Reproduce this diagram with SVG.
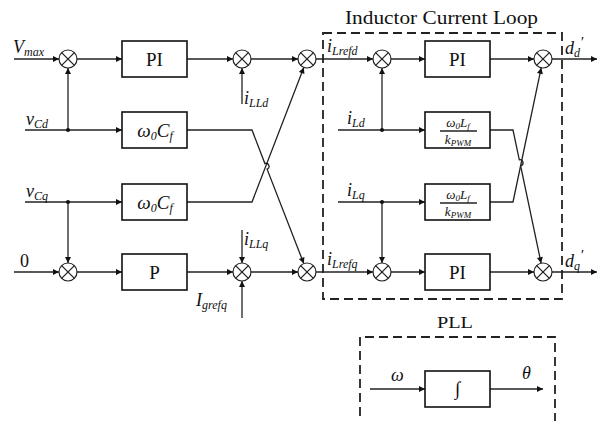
<svg xmlns="http://www.w3.org/2000/svg" width="601" height="421" viewBox="0 0 601 421">
<style>
.ln{fill:none;stroke:#222;stroke-width:1.3}
.bx{fill:#fff;stroke:#111;stroke-width:1.6}
.sm{fill:#fff;stroke:#222;stroke-width:1.2}
.dash{fill:none;stroke:#222;stroke-width:1.8;stroke-dasharray:9 5}
text{font-family:"Liberation Serif","Times New Roman",serif;fill:#111}
.it{font-style:italic}
.bt{font-size:19px;text-anchor:middle}
.lb{font-size:18px;font-style:italic}
.sub{font-size:12px;font-style:italic}
.ti{font-size:19px}
</style>
<defs>
<marker id="a" viewBox="0 0 10 10" refX="10" refY="5" markerWidth="8" markerHeight="6" orient="auto" markerUnits="userSpaceOnUse"><path d="M0,0 L10,5 L0,10 z" fill="#111"/></marker>
<symbol id="sum" overflow="visible"><circle cx="0" cy="0" r="9" class="sm"/><path d="M-6.4,-6.4 L6.4,6.4 M-6.4,6.4 L6.4,-6.4" class="ln" stroke-width="0.9"/></symbol>
</defs>

<g id="connectors" class="ln" marker-end="url(#a)">
<path d="M14,59 H59"/>
<path d="M77,59 H122"/>
<path d="M187,59 H233"/>
<path d="M251,59 H298"/>
<path d="M316,59 H373"/>
<path d="M391,59 H425"/>
<path d="M490,59 H534"/>
<path d="M552,59 H597"/>
<path d="M68,130 V68"/>
<path d="M25,130 H122"/>
<path d="M187,130 H252 L264.9,163.6 A3,3 0 0 1 267.1,169.2 L303.8,263.6"/>
<path d="M242,104 V68"/>
<path d="M25,202 H122"/>
<path d="M68,202 V263"/>
<path d="M187,202 H252 L303.8,67.4"/>
<path d="M14,272 H59"/>
<path d="M77,272 H122"/>
<path d="M187,272 H233"/>
<path d="M251,272 H298"/>
<path d="M316,272 H373"/>
<path d="M391,272 H425"/>
<path d="M490,272 H534"/>
<path d="M552,272 H597"/>
<path d="M242,230 V263"/>
<path d="M242,318 V281"/>
<path d="M338,130 H425"/>
<path d="M382,130 V68"/>
<path d="M338,202 H425"/>
<path d="M382,202 V263"/>
<path d="M490,130 H513 L519.3,159.8 A3,3 0 0 1 520.6,165.7 L541.1,263.2"/>
<path d="M490,202 H513 L541.2,67.8"/>
<path d="M370,389 H425"/>
<path d="M490,389 H543"/>
</g>
<g id="dots" fill="#111">
<circle cx="68" cy="130" r="2"/>
<circle cx="68" cy="202" r="2"/>
<circle cx="382" cy="130" r="2"/>
<circle cx="382" cy="202" r="2"/>
</g>

<g id="loop-frame">
<rect x="323" y="33" width="239" height="266" class="dash"/>
<text x="345" y="24" class="ti" textLength="193" lengthAdjust="spacingAndGlyphs">Inductor Current Loop</text>
</g>
<g id="pll-frame">
<path d="M360,430 V337 H555 V430" class="dash"/>
<text x="437" y="328" font-size="17" textLength="36" lengthAdjust="spacingAndGlyphs">PLL</text>
</g>

<g id="s1"><use href="#sum" x="68" y="59"/></g>
<g id="s2"><use href="#sum" x="242" y="59"/></g>
<g id="s3"><use href="#sum" x="307" y="59"/></g>
<g id="s4"><use href="#sum" x="382" y="59"/></g>
<g id="s5"><use href="#sum" x="543" y="59"/></g>
<g id="s6"><use href="#sum" x="68" y="272"/></g>
<g id="s7"><use href="#sum" x="242" y="272"/></g>
<g id="s8"><use href="#sum" x="307" y="272"/></g>
<g id="s9"><use href="#sum" x="382" y="272"/></g>
<g id="s10"><use href="#sum" x="543" y="272"/></g>

<g id="pi1"><rect x="122" y="41" width="65" height="36" class="bx"/><text x="154.5" y="66" class="bt">PI</text></g>
<g id="wc1"><rect x="122" y="112" width="65" height="36" class="bx"/><text x="155" y="137" class="bt it">ω<tspan font-size="12" dy="3">0</tspan><tspan dy="-3">C</tspan><tspan font-size="12" dy="3">f</tspan></text></g>
<g id="wc2"><rect x="122" y="184" width="65" height="36" class="bx"/><text x="155" y="209" class="bt it">ω<tspan font-size="12" dy="3">0</tspan><tspan dy="-3">C</tspan><tspan font-size="12" dy="3">f</tspan></text></g>
<g id="p"><rect x="122" y="254" width="65" height="36" class="bx"/><text x="154.5" y="279" class="bt">P</text></g>
<g id="pi2"><rect x="425" y="41" width="65" height="36" class="bx"/><text x="457.5" y="66" class="bt">PI</text></g>
<g id="fr1"><rect x="425" y="112" width="65" height="36" class="bx"/><text x="458" y="127" font-size="13" class="it" text-anchor="middle">ω<tspan font-size="9" dy="2">0</tspan><tspan dy="-2">L</tspan><tspan font-size="9" dy="2">f</tspan></text><path d="M440,131 H477" class="ln" stroke-width="1"/><text x="458" y="144" font-size="13" class="it" text-anchor="middle">k<tspan font-size="9" dy="2">PWM</tspan></text></g>
<g id="fr2"><rect x="425" y="184" width="65" height="36" class="bx"/><text x="458" y="199" font-size="13" class="it" text-anchor="middle">ω<tspan font-size="9" dy="2">0</tspan><tspan dy="-2">L</tspan><tspan font-size="9" dy="2">f</tspan></text><path d="M440,203 H477" class="ln" stroke-width="1"/><text x="458" y="216" font-size="13" class="it" text-anchor="middle">k<tspan font-size="9" dy="2">PWM</tspan></text></g>
<g id="pi3"><rect x="425" y="254" width="65" height="36" class="bx"/><text x="457.5" y="279" class="bt">PI</text></g>
<g id="int"><rect x="425" y="371" width="65" height="36" class="bx"/><text x="457.5" y="395" class="bt">∫</text></g>

<g id="labels">
<text x="13" y="53" class="lb" font-size="20">V<tspan class="sub" dy="3">max</tspan></text>
<text x="26" y="125" class="lb">v<tspan class="sub" dy="3">Cd</tspan></text>
<text x="26" y="197" class="lb">v<tspan class="sub" dy="3">Cq</tspan></text>
<text x="20" y="267" font-size="18">0</text>
<text x="244" y="104" class="lb">i<tspan class="sub" dy="3">LLd</tspan></text>
<text x="244" y="245" class="lb">i<tspan class="sub" dy="3">LLq</tspan></text>
<text x="196" y="306" class="lb">I<tspan class="sub" dy="3">grefq</tspan></text>
<text x="327" y="52" class="lb">i<tspan class="sub" dy="3">Lrefd</tspan></text>
<text x="327" y="265" class="lb">i<tspan class="sub" dy="3">Lrefq</tspan></text>
<text x="347" y="124" class="lb">i<tspan class="sub" dy="3">Ld</tspan></text>
<text x="347" y="196" class="lb">i<tspan class="sub" dy="3">Lq</tspan></text>
<text x="565" y="54" class="lb">d<tspan class="sub" dy="3">d</tspan><tspan dy="-10" font-size="15">′</tspan></text>
<text x="565" y="267" class="lb">d<tspan class="sub" dy="3">q</tspan><tspan dy="-10" font-size="15">′</tspan></text>
<text x="391" y="381" class="lb" font-size="15">ω</text>
<text x="522" y="379" class="lb" font-size="15">θ</text>
</g>
</svg>
